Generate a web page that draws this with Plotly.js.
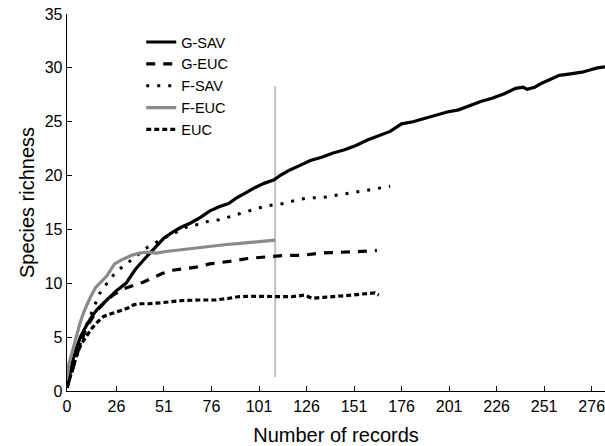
<!DOCTYPE html>
<html>
<head>
<meta charset="utf-8">
<script src="https://cdn.plot.ly/plotly-3.0.1.min.js"></script>
<style>html,body{margin:0;padding:0;background:#fff;}#chart{width:605px;height:446px;}</style>
</head>
<body>
<div id="chart"></div>
<script>
// ---- data ----
const seriesNames = ["G-SAV", "G-EUC", "F-SAV", "F-EUC", "EUC"];

const gsavX = [0,1,2,3,5,7,10,13,16,20,26,31,36,41,46,51,56,60,65,70,75,80,85,89,94,99,104,109,112,117,122,128,134,140,146,152,158,164,170,176,182,188,194,200,206,212,218,224,230,236,240,242,246,250,255,259,263,267,271,275,279,283];
const gsavY = [0.3,1.2,2.0,2.8,4.0,5.0,6.0,6.9,7.6,8.3,9.3,10.0,11.3,12.3,13.2,14.2,14.8,15.2,15.6,16.1,16.7,17.1,17.4,17.9,18.4,18.9,19.3,19.6,20.0,20.5,20.9,21.4,21.7,22.1,22.4,22.8,23.3,23.7,24.1,24.8,25.0,25.3,25.6,25.9,26.1,26.5,26.9,27.2,27.6,28.1,28.2,28.0,28.2,28.6,29.0,29.3,29.4,29.5,29.6,29.8,30.0,30.1];

const geucX = [0,2,4,6,8,10,13,16,20,25,30,35,40,45,50,55,60,68,75,80,88,95,100,108,115,124,133,142,151,160,163];
const geucY = [0.3,1.5,2.8,3.8,4.8,5.8,6.7,7.5,8.3,9.0,9.5,9.8,10.1,10.5,10.9,11.2,11.3,11.5,11.8,11.9,12.1,12.3,12.4,12.5,12.6,12.6,12.8,12.85,12.97,13.0,13.05];

const fsavX = [0,2,4,6,8,10,13,17,21,26,32,37,42,46,51,56,60,64,70,75,80,86,92,97,103,109,114,120,126,136,148,158,170];
const fsavY = [0.3,1.5,2.8,4.0,5.0,6.0,7.3,9.0,10.0,11.1,11.9,12.6,13.3,13.7,14.2,14.6,15.0,15.3,15.5,15.8,15.9,16.2,16.5,16.8,17.1,17.3,17.4,17.7,17.9,18.0,18.35,18.66,19.0];

const feucX = [0,1,3,5,7,9,12,15,18,21,25,29,34,38,42,47,52,57,63,70,77,84,91,97,103,109.5];
const feucY = [1.0,2.5,3.8,5.2,6.4,7.4,8.6,9.6,10.2,10.7,11.8,12.2,12.6,12.8,12.9,12.8,12.95,13.05,13.15,13.35,13.5,13.6,13.7,13.8,13.9,14.0];

const eucX = [0,2,4,6,8,10,13,16,19,22,26,29,32,35,38,43,50,61,70,78,85,90,96,103,110,118,125,129,135,140,145,150,155,159,162,164];
const eucY = [0.3,1.5,2.8,3.8,4.5,5.0,5.8,6.4,6.9,7.1,7.3,7.5,7.7,8.0,8.1,8.1,8.2,8.4,8.45,8.45,8.6,8.75,8.8,8.8,8.8,8.75,8.9,8.6,8.7,8.75,8.8,8.9,9.0,9.05,9.1,8.9];

const markerLineX = [109.5, 109.5];
const markerLineY = [1.3, 28.3];

const xTickVals = [0,26,51,76,101,126,151,176,201,226,251,276];
const yTickVals = [0,5,10,15,20,25,30,35];

// ---- chart ----
const FONT = "Liberation Sans, Arial, sans-serif";
const traces = [
  {x: markerLineX, y: markerLineY, mode: "lines", showlegend: false, hoverinfo: "skip",
   line: {color: "#c0c0c0", width: 2}},
  {x: gsavX, y: gsavY, name: seriesNames[0], mode: "lines", line: {color: "#000", width: 3.2}},
  {x: geucX, y: geucY, name: seriesNames[1], mode: "lines", line: {color: "#000", width: 3.2, dash: "9px,8px"}},
  {x: fsavX, y: fsavY, name: seriesNames[2], mode: "lines", line: {color: "#000", width: 3, dash: "3px,8px"}},
  {x: feucX, y: feucY, name: seriesNames[3], mode: "lines", line: {color: "#8a8a8a", width: 3.2}},
  {x: eucX, y: eucY, name: seriesNames[4], mode: "lines", line: {color: "#000", width: 3.2, dash: "5px,3px"}}
];

const layout = {
  width: 605, height: 446,
  margin: {l: 67, r: 0, t: 14, b: 55},
  paper_bgcolor: "#fff", plot_bgcolor: "#fff",
  font: {family: FONT, size: 16, color: "#000"},
  showlegend: true,
  legend: {x: 0.138, y: 0.968, xanchor: "left", yanchor: "top",
           bgcolor: "rgba(0,0,0,0)", borderwidth: 0, tracegroupgap: 0,
           font: {family: FONT, size: 14.5, color: "#000"}},
  xaxis: {range: [0, 283], tickvals: xTickVals, ticktext: xTickVals.map(String),
          ticks: "inside", ticklen: 5, tickcolor: "#000", showline: true, linecolor: "#000",
          linewidth: 1.3, showgrid: false, zeroline: false, mirror: false,
          ticklabeloverflow: "allow",
          tickfont: {family: FONT, size: 16},
          title: {text: "Number of records", font: {family: FONT, size: 20}, standoff: 14}},
  yaxis: {range: [0, 35], tickvals: yTickVals, ticktext: yTickVals.map(String),
          ticks: "inside", ticklen: 5, tickcolor: "#000", showline: true, linecolor: "#000",
          linewidth: 1.3, showgrid: false, zeroline: false, mirror: false,
          tickfont: {family: FONT, size: 16},
          title: {text: "Species richness", font: {family: FONT, size: 20}, standoff: 4}}
};

Plotly.newPlot("chart", traces, layout, {displayModeBar: false, staticPlot: true});
</script>
</body>
</html>
